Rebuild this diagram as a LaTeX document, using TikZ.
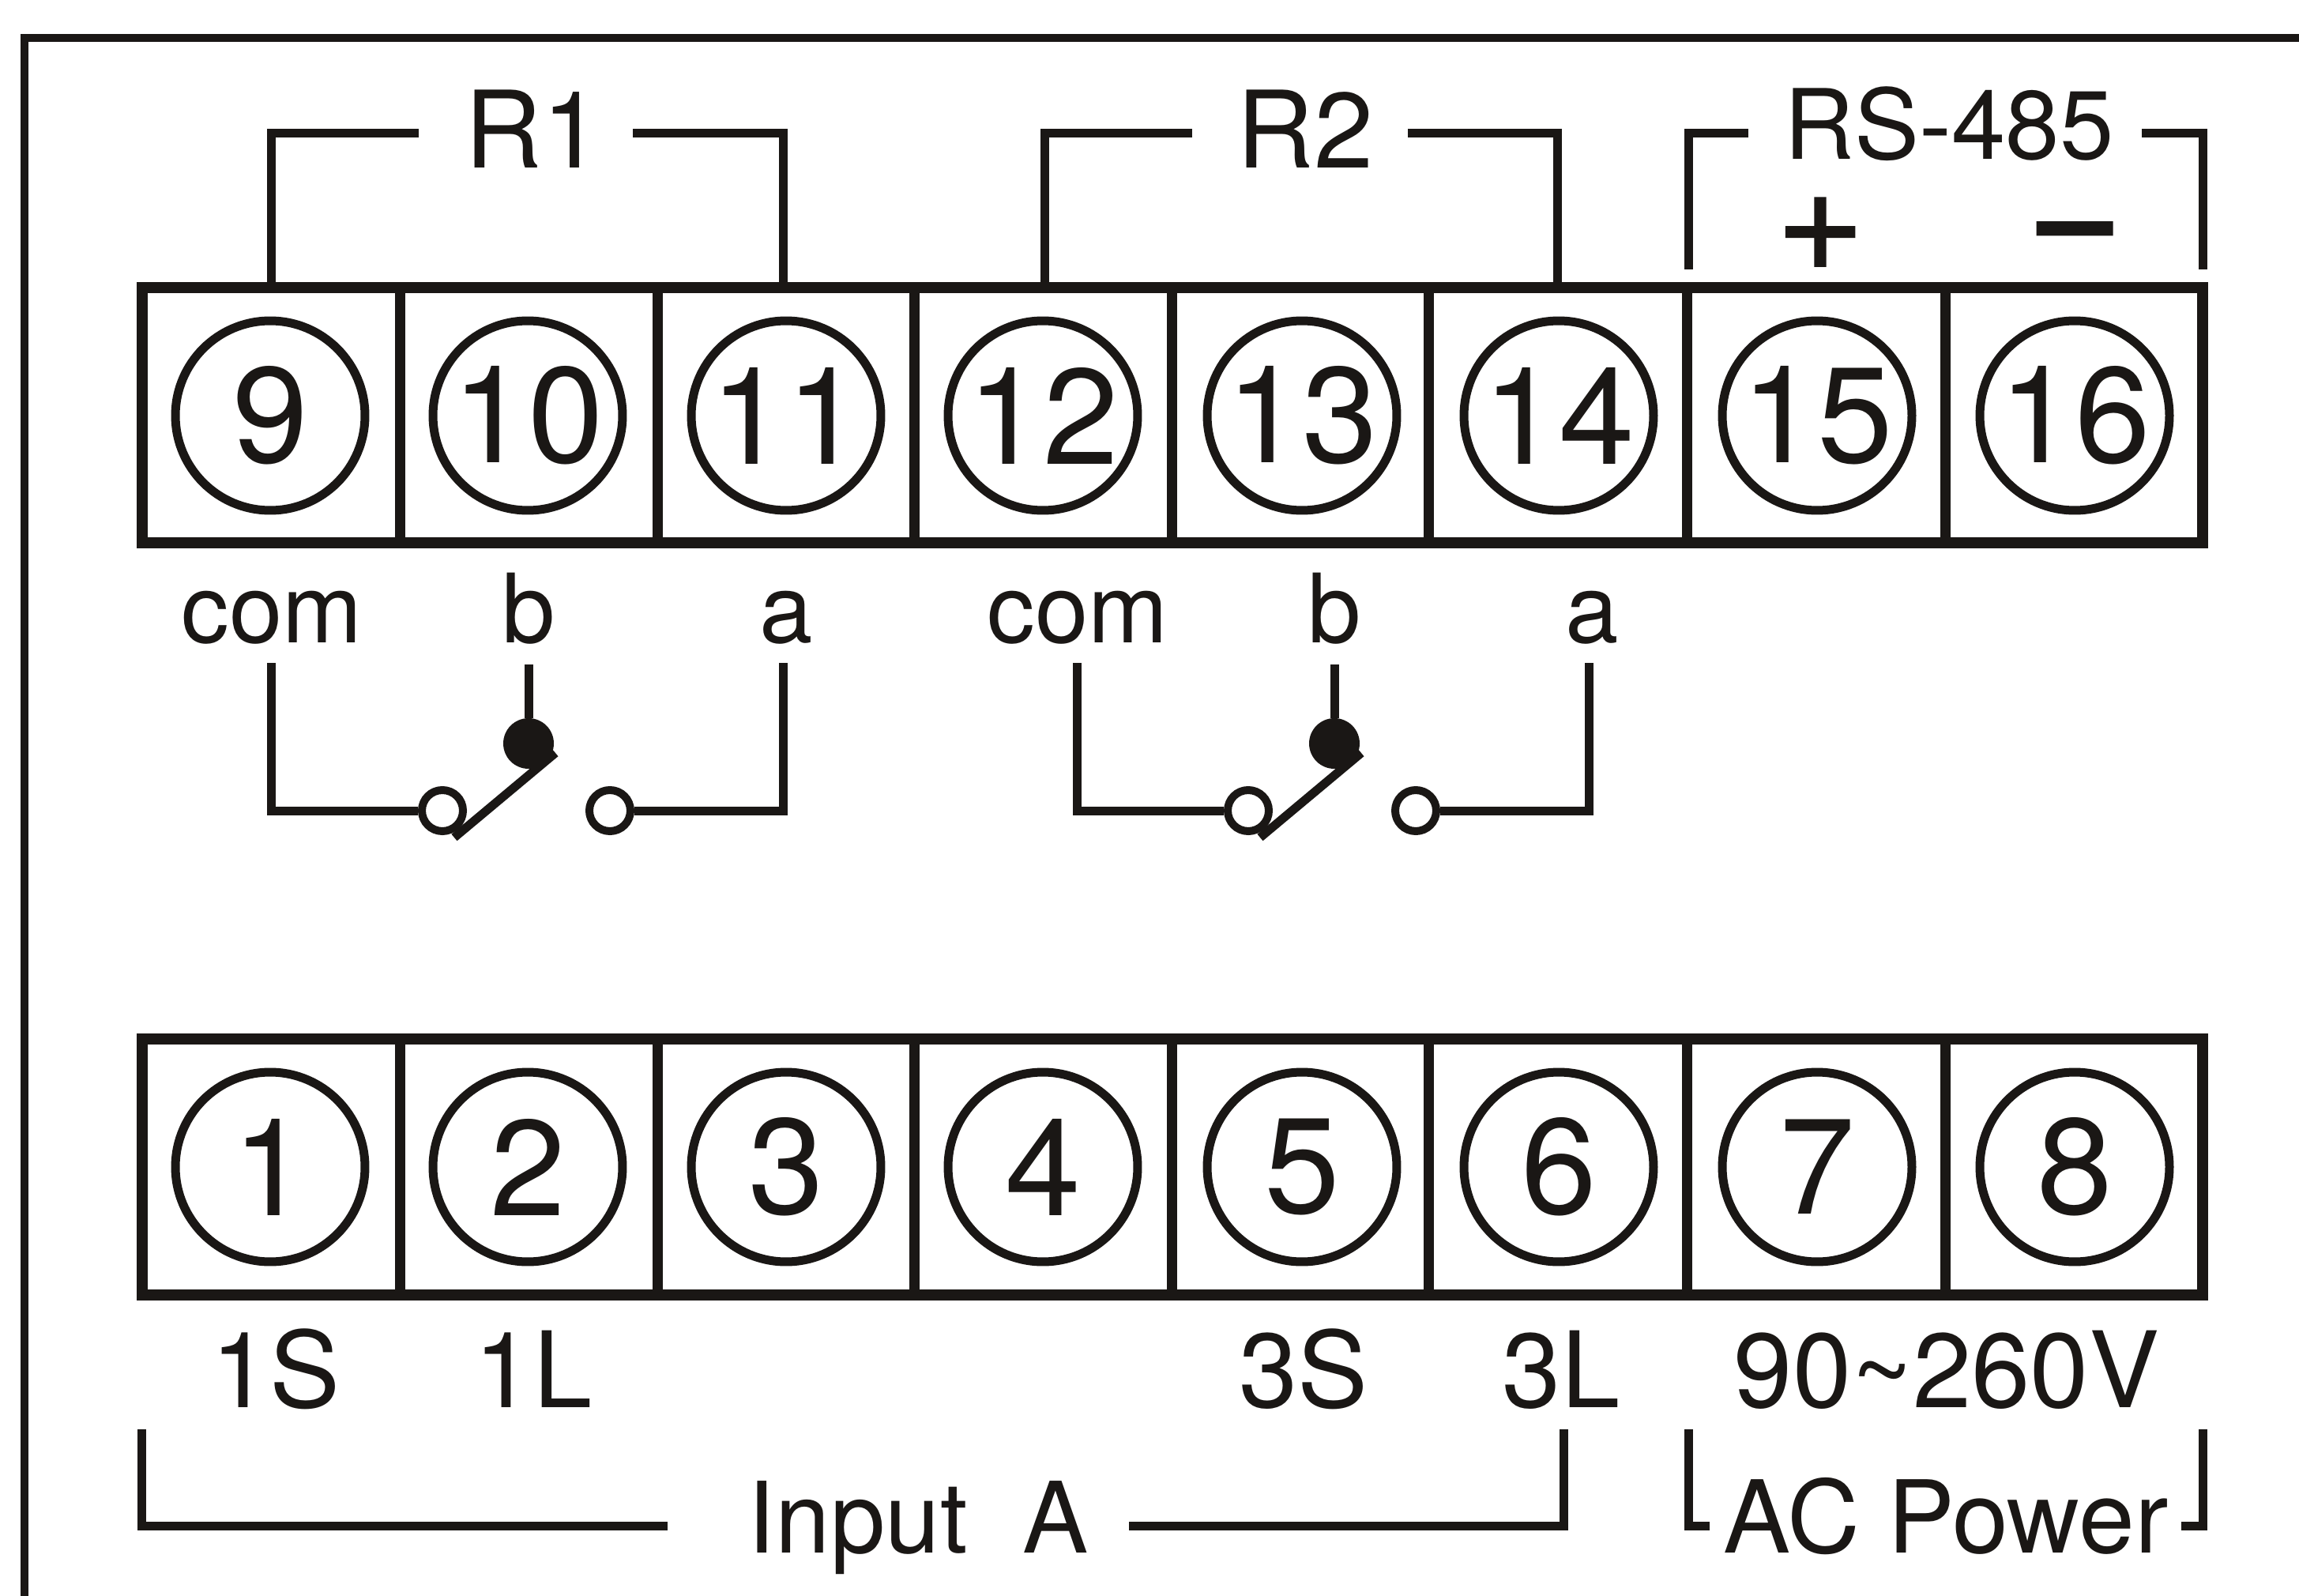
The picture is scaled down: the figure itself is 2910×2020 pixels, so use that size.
\documentclass[tikz,border=0pt]{standalone}
\usepackage{fontspec}
\setmainfont{TeX Gyre Heros}
\definecolor{ink}{HTML}{1A1715}
\newcommand{\pxfont}[1]{\fontsize{#1}{#1}\selectfont}
\tikzset{
  wire/.style={draw=ink,line width=0.22cm,line cap=butt,miter limit=10},
  framewire/.style={draw=ink,line width=0.2cm},
  blockbox/.style={rectangle,draw=ink,line width=0.28cm,minimum width=52.16cm,minimum height=6.48cm,inner sep=0pt},
  divider/.style={draw=ink,line width=0.26cm},
  terminal/.style={circle,draw=ink,line width=0.22cm,minimum size=4.8cm,inner sep=0pt,text=ink,font=\pxfont{98}},
  contact/.style={circle,draw=ink,fill=white,line width=0.2cm,minimum size=1.04cm,inner sep=0pt},
  pivot/.style={circle,fill=ink,minimum size=1.28cm,inner sep=0pt},
  lab/.style={anchor=base,inner sep=0pt,text=ink},
  biglab/.style={lab,font=\pxfont{76}},
  titlelab/.style={lab,font=\pxfont{77}},
  smalllab/.style={lab,font=\pxfont{69}},
  powerlab/.style={lab,font=\pxfont{72.5}}
}
\begin{document}
\begin{tikzpicture}[x=0.02cm,y=-0.02cm]
\useasboundingbox (0,0) rectangle (2910,2020);
\fill[white] (0,0) rectangle (2910,2020);
% outer frame
\coordinate (frameBL) at (31,2020);
\coordinate (frameTL) at (31,48);
\coordinate (frameTR) at (2910,48);
\draw[framewire] (frameBL) -- (frameTL) -- (frameTR);
% terminal blocks
\node[blockbox] (upper) at (1484,525.5) {};
\node[blockbox] (lower) at (1484,1477) {};
\foreach \xx in {506,832,1157,1483,1808,2135,2462}{
  \draw[divider] (\xx,363) -- (\xx,688);
  \draw[divider] (\xx,1314) -- (\xx,1640);
}
% terminals
\foreach \n/\xx in {9/342,10/668,11/995,12/1320,13/1648,14/1973,15/2300,16/2626}
  \node[terminal] (t\n) at (\xx,526) {\n};
\foreach \n/\xx in {1/342,2/668,3/995,4/1320,5/1648,6/1973,7/2300,8/2626}
  \node[terminal] (t\n) at (\xx,1477) {\n};
% R1
\node[titlelab] (R1) at (675,213) {R1};
\coordinate (r1a) at (530,169);
\coordinate (r1b) at (801,169);
\draw[wire] (r1a) -| (343,363);
\draw[wire] (r1b) -| (991,363);
% R2
\node[titlelab] (R2) at (1652,213) {R2};
\coordinate (r2a) at (1509,169);
\coordinate (r2b) at (1782,169);
\draw[wire] (r2a) -| (1322,363);
\draw[wire] (r2b) -| (1971,363);
% RS-485
\node[lab,font=\pxfont{70}] (RS) at (2467,202) {RS-485};
\coordinate (rsa) at (2213,169);
\coordinate (rsb) at (2711,169);
\draw[wire] (rsa) -| (2137,341);
\draw[wire] (rsb) -| (2788,341);
\node[lab,font=\pxfont{110}\addfontfeature{FakeBold=1}] (plus) at (2304,342) {+};
\node[lab,font=\pxfont{118}\addfontfeature{FakeBold=2}] (minus) at (2626,341) {−};
% relay contacts
\foreach \n/\dx in {1/0,2/1020}{
  \node[smalllab] (com\n) at (344+\dx,813) {com};
  \node[smalllab] (b\n) at (669+\dx,813) {b};
  \node[smalllab] (a\n) at (995+\dx,813) {a};
  \coordinate (comtop\n) at (343+\dx,839);
  \coordinate (btop\n) at (669+\dx,841);
  \coordinate (atop\n) at (991+\dx,839);
  \node[contact] (cl\n) at (560+\dx,1026) {};
  \node[contact] (cr\n) at (772+\dx,1026) {};
  \node[pivot] (p\n) at (669+\dx,941) {};
  \coordinate (bladelow\n) at (575+\dx,1060);
  \coordinate (bladehigh\n) at (703+\dx,953);
  \draw[wire] (comtop\n) |- (cl\n.west);
  \draw[wire] (atop\n) |- (cr\n.east);
  \draw[wire] (btop\n) -- (p\n.north);
  \draw[wire] (bladelow\n) -- (bladehigh\n);
}
% lower labels
\node[biglab] (l1S) at (349,1781) {1S};
\node[biglab] (l1L) at (675,1781) {1L};
\node[biglab] (l3S) at (1650,1781) {3S};
\node[biglab] (l3L) at (1976,1781) {3L};
\node[biglab] (lV) at (2464,1781) {90\textasciitilde260V};
% Input A
\node[lab,font=\pxfont{71}] (inA) at (1162,1965) {Input\ \ A};
\coordinate (ia1) at (179,1809);
\coordinate (ia2) at (845,1931);
\coordinate (ib1) at (1979,1809);
\coordinate (ib2) at (1429,1931);
\draw[wire] (ia1) |- (ia2);
\draw[wire] (ib1) |- (ib2);
% AC Power
\node[powerlab] (ac) at (2463,1965) {AC Power};
\coordinate (pa1) at (2137,1809);
\coordinate (pa2) at (2164,1931);
\coordinate (pb1) at (2788,1809);
\coordinate (pb2) at (2761,1931);
\draw[wire] (pa1) |- (pa2);
\draw[wire] (pb1) |- (pb2);
\end{tikzpicture}
\end{document}
